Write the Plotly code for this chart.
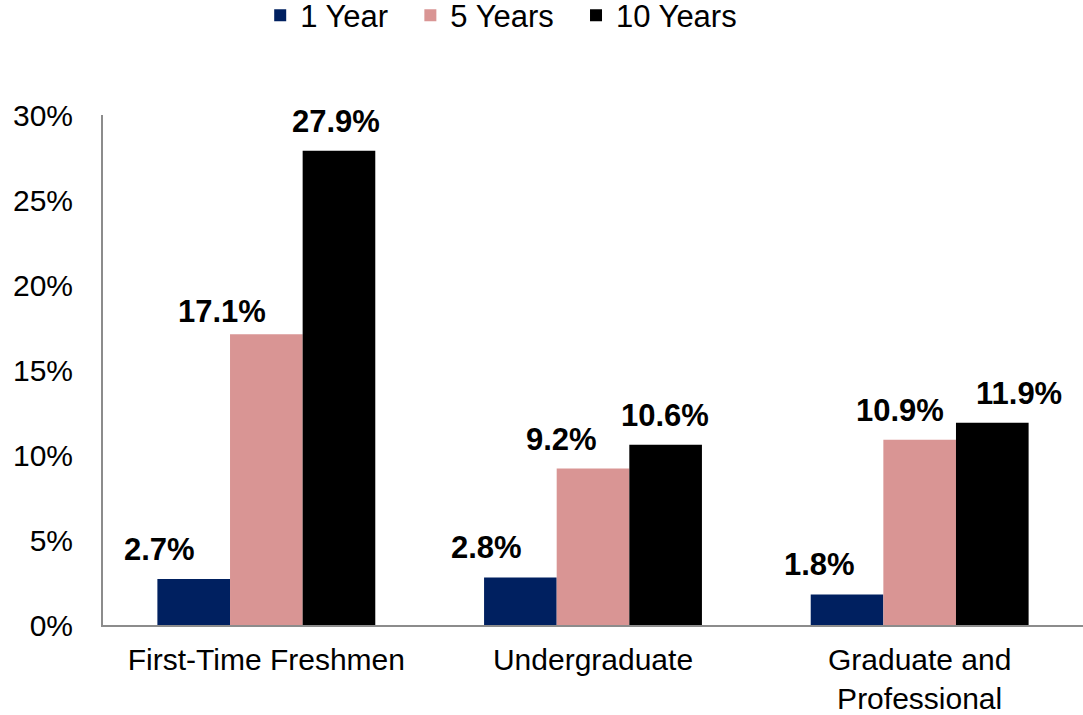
import plotly.graph_objects as go

categories = ["First-Time Freshmen", "Undergraduate", "Graduate and<br>Professional"]
series_names = ["1 Year", "5 Years", "10 Years"]
one_year = [2.7, 2.8, 1.8]
five_years = [17.1, 9.2, 10.9]
ten_years = [27.9, 10.6, 11.9]
colors = ["#002060", "#D99594", "#000000"]

font = "Liberation Sans, Arial, sans-serif"
pad = "\u00a0\u00a0"  # widen gaps between legend entries

fig = go.Figure()
for name, vals, col in zip(series_names, [one_year, five_years, ten_years], colors):
    fig.add_trace(go.Bar(x=categories, y=vals, name=name + pad, marker_color=col,
                         marker_line_width=0))

# data labels placed as annotations, nudged like the original Excel labels
bar_px = 73
series_shift = [-bar_px, 0, bar_px]
label_dx = [[-34, -34, -27], [-44, -32, -20], [-3, -1, 26]]
label_dy = [[10, 10, 10], [3, 10, 10], [10, 10, 10]]
for s, vals in enumerate([one_year, five_years, ten_years]):
    for i, (c, v) in enumerate(zip(categories, vals)):
        fig.add_annotation(x=c, y=v, text="<b>%.1f%%</b>" % v, showarrow=False,
                           xshift=series_shift[s] + label_dx[s][i],
                           yanchor="bottom", yshift=label_dy[s][i],
                           font=dict(family=font, size=31, color="black"))

fig.update_layout(
    width=1083, height=715,
    paper_bgcolor="white", plot_bgcolor="white",
    margin=dict(l=103, r=0, t=115, b=90, autoexpand=False),
    barmode="group", bargap=0.333, bargroupgap=0,
    font=dict(family=font, size=30, color="black"),
    legend=dict(orientation="h", x=0.415, xanchor="center", y=1.195, yanchor="middle",
                font=dict(size=31), itemwidth=30, traceorder="normal"),
    showlegend=True,
)
fig.update_yaxes(range=[0, 30], tickvals=[0, 5, 10, 15, 20, 25, 30],
                 ticktext=["0%", "5%", "10%", "15%", "20%", "25%", "30%"],
                 showgrid=False, zeroline=False, showline=True, linecolor="#8c8c8c",
                 linewidth=2, ticks="", ticklabelstandoff=22, automargin=False)
fig.update_xaxes(showline=True, linecolor="#8c8c8c", linewidth=2, ticks="",
                 showgrid=False, automargin=False, ticklabelstandoff=7,
                 tickfont=dict(size=30))

# drop the default page margin so the chart sits at the window's corner
fig.write_html("out.html", config={"displayModeBar": False},
               post_script="document.body.style.margin='0';")
